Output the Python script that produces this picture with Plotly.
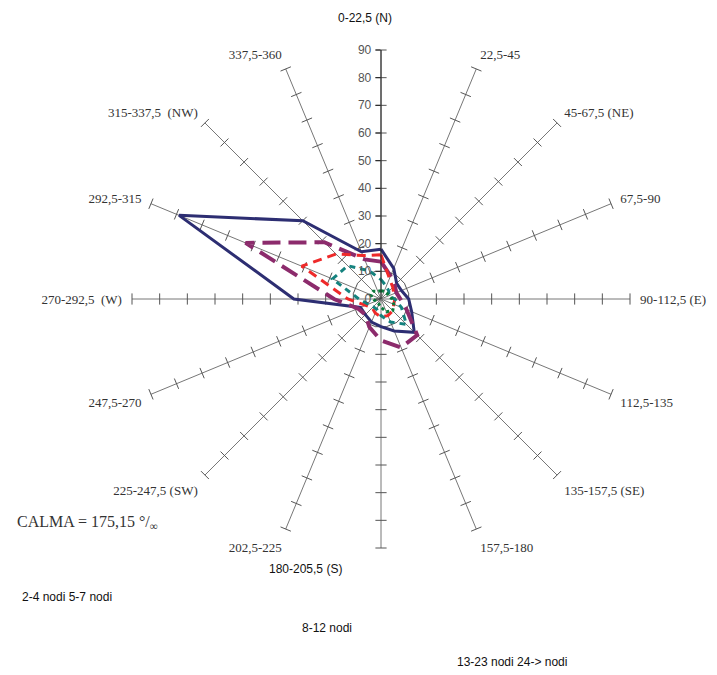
import plotly.graph_objects as go

directions = [0, 22.5, 45, 67.5, 90, 112.5, 135, 157.5, 180, 202.5, 225, 247.5, 270, 292.5, 315, 337.5]
dir_labels = ["0-22,5 (N)", "22,5-45", "45-67,5 (NE)", "67,5-90", "90-112,5 (E)", "112,5-135",
              "135-157,5 (SE)", "157,5-180", "180-205,5 (S)", "202,5-225", "225-247,5 (SW)",
              "247,5-270", "270-292,5  (W)", "292,5-315", "315-337,5  (NW)", "337,5-360"]
radial_ticks = [0, 10, 20, 30, 40, 50, 60, 70, 80, 90]

series_names = ["2-4 nodi", "5-7 nodi", "8-12 nodi", "13-23 nodi", "24-> nodi"]
s_2_4 = [18, 12, 8, 8, 10, 12, 17, 12.5, 10, 9, 8, 8, 31.5, 79, 40, 18.5]
s_5_7 = [13.5, 9, 7, 6, 7, 10, 18.5, 19, 15, 11, 8, 9, 17, 53, 29, 15.5]
s_8_12 = [16, 8, 6, 5, 5, 5, 6, 6.5, 6.5, 5.5, 4.5, 6, 12, 31, 23, 17]
s_13_23 = [7, 5, 4, 3, 5, 8, 13, 9, 6, 4, 4, 5, 8, 19, 17, 11]
s_24 = [3, 3, 3, 3, 4, 5, 6, 5, 3, 2, 2, 2, 3, 4, 4, 3]
calma_text = "CALMA = 175,15 °/<sub>∞</sub>"

series_values = [s_2_4, s_5_7, s_8_12, s_13_23, s_24]
styles = [
    dict(color="#2d2e72", width=3, dash="solid"),
    dict(color="#8c2b6c", width=4, dash="18px,8px"),
    dict(color="#ee2a2a", width=3, dash="9px,6px"),
    dict(color="#14827e", width=3, dash="6px,5px"),
    dict(color="#0b7a3c", width=3, dash="dot"),
]

# page offset (body margin) compensation: screen px -> figure px
OFF = 8
W, H = 717 - OFF, 675 - OFF


def fx(px):
    return (px - OFF) / W


def fy(py):
    return 1 - (py - OFF) / H


fig = go.Figure()

# tick marks on each spoke
tick_r, tick_t = [], []
for d in directions:
    for v in radial_ticks[1:]:
        tick_r.append(v)
        tick_t.append(d)
fig.add_trace(go.Scatterpolar(
    r=tick_r, theta=tick_t, mode="markers", showlegend=False, hoverinfo="skip",
    marker=dict(symbol="line-ew", size=8, angle=tick_t,
                line=dict(color="#555555", width=1)),
))

for name, vals, st in zip(series_names, series_values, styles):
    fig.add_trace(go.Scatterpolar(
        r=vals + vals[:1], theta=directions + directions[:1], mode="lines",
        name=name, line=st, showlegend=False,
    ))

# N and S labels are drawn as separate annotations (sans-serif, further out)
ticktext = ["" if lab.endswith("(N)") or lab.endswith("(S)") else lab for lab in dir_labels]

cx, cy, R = 381, 299, 249
fig.update_layout(
    width=W, height=H,
    margin=dict(l=0, r=0, t=0, b=0),
    paper_bgcolor="white", plot_bgcolor="white",
    showlegend=False,
    polar=dict(
        domain=dict(x=[fx(cx - R), fx(cx + R)], y=[fy(cy + R), fy(cy - R)]),
        bgcolor="white",
        angularaxis=dict(
            rotation=90, direction="clockwise", type="linear",
            tickmode="array", tickvals=directions, ticktext=ticktext,
            showline=False, showgrid=True, gridcolor="#777777", gridwidth=1,
            ticks="outside", ticklen=7, tickcolor="rgba(0,0,0,0)",
            tickfont=dict(family="Liberation Serif", size=13, color="#333333"),
        ),
        radialaxis=dict(
            range=[0, 90], tickvals=radial_ticks, angle=90, showgrid=False,
            showline=True, linecolor="#222222", linewidth=1, ticks="outside", ticklen=5,
            tickcolor="#222222", tickangle=90, side="counterclockwise",
            tickfont=dict(family="Liberation Sans", size=12, color="#555555"),
        ),
    ),
)

n_label = [lab for lab in dir_labels if lab.endswith("(N)")][0]
s_label = [lab for lab in dir_labels if lab.endswith("(S)")][0]
for txt, px, py in [(n_label, 365, 18), (s_label, 305, 569)]:
    fig.add_annotation(text=txt, x=fx(px), y=fy(py), xref="paper", yref="paper",
                       xanchor="center", yanchor="middle", showarrow=False,
                       font=dict(family="Liberation Sans", size=12, color="#111111"))

fig.add_annotation(text=calma_text, x=fx(15), y=fy(522), xref="paper", yref="paper",
                   xanchor="left", yanchor="middle", showarrow=False,
                   font=dict(family="Liberation Serif", size=16, color="#333333"))

legend_groups = [(series_names[0] + " " + series_names[1], 20, 597),
                 (series_names[2], 300, 628),
                 (series_names[3] + " " + series_names[4], 455, 662)]
for txt, px, py in legend_groups:
    fig.add_annotation(text=txt, x=fx(px), y=fy(py), xref="paper", yref="paper",
                       xanchor="left", yanchor="middle", showarrow=False,
                       font=dict(family="Liberation Sans", size=12, color="#111111"))

fig.write_html("out.html")
